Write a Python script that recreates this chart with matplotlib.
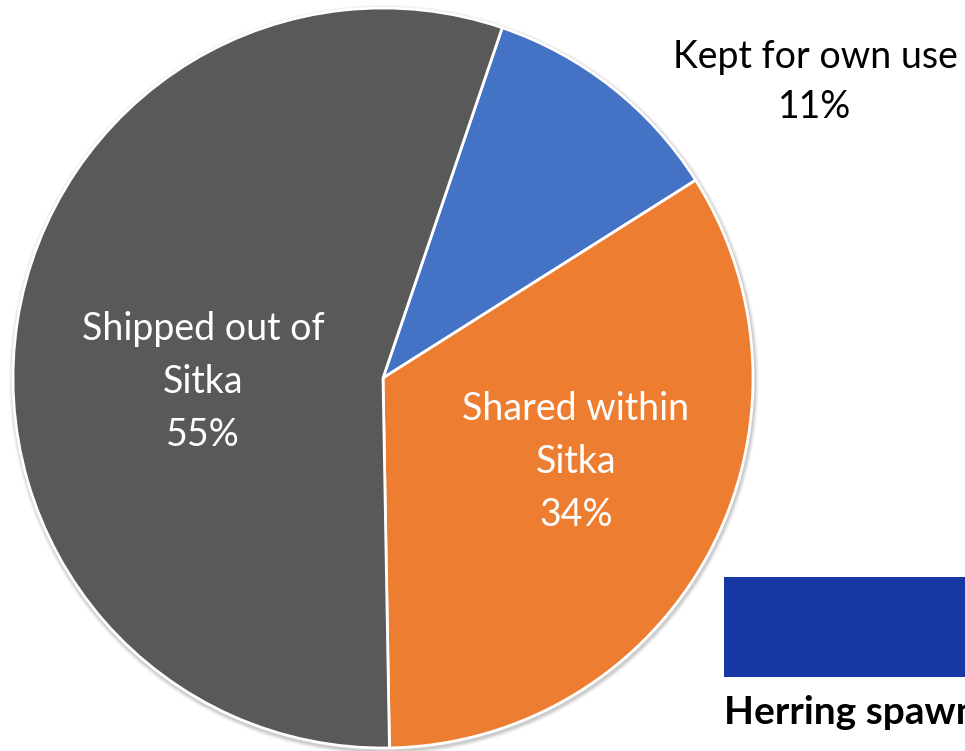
import matplotlib.pyplot as plt
from matplotlib.patches import Circle, Rectangle

labels = ["Kept for own use", "Shared within\nSitka", "Shipped out of\nSitka"]
shares = [10.8, 33.7, 55.5]
pct_labels = ["11%", "34%", "55%"]
colors = ["#4472C4", "#ED7D31", "#595959"]

plt.rcParams['font.family'] = ['Lato', 'DejaVu Sans']

fig = plt.figure(figsize=(9.65, 7.51), dpi=100)
ax = fig.add_axes([0, 0, 1, 1])

cx, cy, r = 383, 378, 370

# soft shadow round the pie
for i, a in enumerate([0.03, 0.04, 0.06, 0.08]):
    ax.add_patch(Circle((cx + 1, cy + 2), r + 5 - i, color="black", alpha=a, lw=0, zorder=0))

wedges, _ = ax.pie(shares, colors=colors, startangle=-71.2, counterclock=True,
                   center=(cx, cy), radius=r, frame=True,
                   wedgeprops=dict(edgecolor="white", linewidth=2))
ax.set_xlim(0, 965)
ax.set_ylim(751, 0)
ax.set_aspect("equal")
ax.axis("off")

fs = 27
ax.text(815, 82, f"{labels[0]}\n{pct_labels[0]}", ha="center", va="center",
        fontsize=fs, color="black", linespacing=1.5)
ax.text(576, 462, f"{labels[1]}\n{pct_labels[1]}", ha="center", va="center",
        fontsize=fs, color="white", linespacing=1.6)
ax.text(203, 382, f"{labels[2]}\n{pct_labels[2]}", ha="center", va="center",
        fontsize=fs, color="white", linespacing=1.6)

ax.add_patch(Rectangle((724, 577), 260, 100, color="#1737A3", lw=0))
ax.text(724, 712, "Herring spawn", ha="left", va="center",
        fontsize=28, fontweight="bold", color="black")

fig.savefig("out.png", dpi=100)
